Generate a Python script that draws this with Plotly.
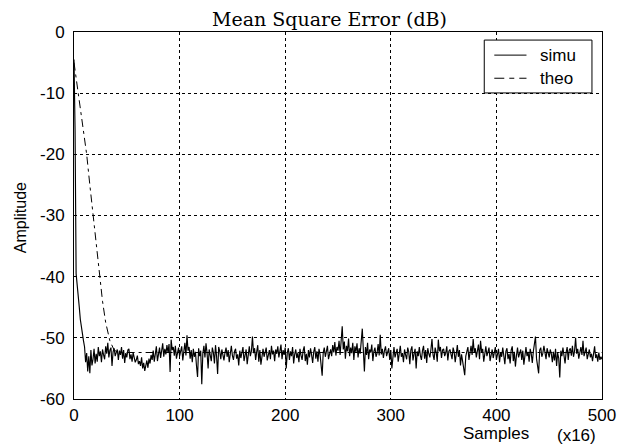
import plotly.graph_objects as go

# ---- data ----
simu_values = [
    -4.5, -16.0, -39.5, -41.0, -43.5, -45.0, -47.0, -48.5, -49.0, -50.5,
    -51.5, -54.0, -52.5, -55.5, -53.0, -55.8, -52.0, -54.5, -53.5, -51.8, -54.2, -52.6, -53.9, -51.5, -53.0, -52.2, -54.0, -51.9, -52.8, -53.5,
    -51.4, -52.6, -50.8, -53.2, -52.0, -51.6, -54.6, -52.3, -51.7, -53.0, -52.4, -51.9, -53.6, -52.1, -52.8, -51.5, -53.4, -52.0, -54.1, -52.5,
    -53.2, -52.0, -51.8, -53.5, -52.7, -53.9, -52.4, -53.1, -54.0, -53.6, -52.9, -54.3, -53.8, -54.6, -53.2, -55.0, -54.1, -55.4, -54.5, -53.7,
    -54.9, -53.4, -54.2, -52.8, -53.6, -52.1, -53.9, -52.5, -51.4, -53.8, -52.2, -51.6, -53.3, -52.0, -50.9, -53.1, -51.8, -52.7, -51.2, -52.4,
    -51.0, -55.6, -50.3, -52.0, -51.5, -52.9, -51.3, -53.4, -52.0, -51.6, -53.0, -52.2, -51.4, -53.7, -52.5, -50.8, -52.9, -49.6, -52.1, -51.5,
    -53.4, -52.0, -54.0, -51.8, -53.1, -52.3, -54.6, -56.4, -51.7, -53.0, -52.1, -57.6, -52.6, -51.3, -53.2, -50.9, -52.5, -55.0, -51.9, -52.7,
    -53.8, -51.6, -52.4, -54.2, -51.2, -53.0, -55.9, -51.5, -52.2, -53.5, -51.9, -52.8, -53.7, -52.4, -51.6, -53.1, -52.0, -54.0, -52.6, -51.3,
    -52.9, -53.6, -52.2, -51.8, -53.4, -52.7, -54.5, -52.1, -53.3, -52.0, -51.5, -53.8, -52.6, -51.9, -54.3, -52.8, -51.4, -53.0, -52.2, -49.8,
    -52.5, -51.7, -53.6, -52.3, -51.2, -53.9, -52.0, -54.4, -52.6, -51.8, -53.1, -52.4, -51.6, -53.7, -52.9, -52.0, -53.5, -51.3, -52.7, -52.1,
    -53.8, -51.9, -52.6, -51.4, -53.2, -52.3, -51.1, -53.5, -52.0, -52.8, -51.6, -55.0, -52.4, -51.7, -53.6, -52.2, -53.0, -51.5, -54.2, -52.7,
    -51.9, -53.3, -52.5, -54.0, -51.8, -52.9, -53.6, -52.1, -51.4, -53.8, -52.6, -54.4, -52.0, -53.2, -51.7, -52.8, -54.1, -52.3, -51.5, -53.4,
    -52.2, -53.9, -51.8, -52.7, -54.5, -56.2, -52.4, -51.6, -53.1, -52.0, -51.3, -53.5, -52.6, -51.9, -53.0, -51.2, -52.4, -50.7, -52.9, -51.5,
    -52.1, -50.5, -52.8, -51.0, -48.1, -51.9, -50.6, -53.4, -51.3, -52.2, -50.1, -53.0, -51.6, -52.5, -50.8, -53.6, -51.4, -52.3, -50.9, -53.2,
    -51.7, -52.6, -50.4, -48.5, -52.0, -55.5, -51.5, -52.8, -50.8, -53.5, -51.9, -52.4, -51.1, -53.8, -52.2, -51.6, -53.1, -52.5, -51.0, -52.9,
    -49.5, -52.7, -51.8, -53.3, -52.1, -51.4, -53.0, -52.4, -51.7, -53.6, -52.0, -55.0, -52.6, -51.5, -53.2, -52.2, -51.8, -53.9, -52.4, -51.3,
    -53.1, -52.5, -54.0, -51.9, -52.8, -53.5, -51.6, -52.3, -54.3, -52.0, -51.4, -53.7, -52.6, -51.8, -55.0, -52.2, -53.0, -51.5, -52.9, -53.6,
    -52.1, -51.3, -53.4, -52.0, -54.1, -51.7, -52.6, -53.2, -51.9, -50.2, -52.8, -53.6, -51.6, -52.4, -53.9, -50.3, -52.2, -51.5, -53.3, -52.0,
    -51.8, -53.0, -52.5, -51.4, -53.7, -52.2, -51.9, -52.8, -53.5, -51.6, -52.3, -54.0, -52.6, -51.2, -53.1, -52.0, -54.5, -52.7, -53.8, -54.9,
    -56.1, -53.0, -52.2, -51.5, -53.6, -52.0, -51.3, -52.8, -50.2, -52.4, -51.7, -53.2, -52.0, -51.1, -53.5, -50.5, -52.3, -51.8, -53.9, -52.6,
    -51.4, -53.0, -52.2, -51.6, -53.8, -52.5, -51.9, -53.3, -52.1, -51.5, -53.6, -52.7, -51.8, -54.0, -52.4, -53.1, -51.6, -52.9, -54.3, -52.2,
    -51.7, -53.5, -52.6, -54.2, -52.0, -51.4, -53.8, -52.3, -54.7, -52.9, -51.6, -53.2, -52.4, -51.9, -53.6, -52.1, -54.4, -52.8, -51.5, -53.0,
    -52.3, -53.9, -51.8, -52.6, -54.1, -52.2, -51.2, -49.8, -53.4, -54.6, -55.8, -52.0, -51.6, -53.1, -52.5, -51.3, -52.8, -53.5, -51.7, -52.4,
    -53.2, -51.9, -52.6, -54.0, -52.3, -53.7, -51.8, -54.6, -52.5, -53.3, -56.5, -52.1, -53.0, -51.6, -52.8, -54.2, -52.4, -51.5, -53.6, -52.0,
    -51.7, -52.9, -51.3, -53.1, -52.2, -50.0, -52.6, -51.8, -53.4, -52.3, -51.5, -52.8, -50.5, -53.0, -52.1, -51.6, -53.5, -52.4, -51.9, -53.2,
    -52.6, -53.8, -52.0, -51.4, -53.3, -52.7, -53.9, -52.4, -53.6, -53.1, -53.5,
]
simu_samples = list(range(len(simu_values)))

theo_samples = [0, 4, 8, 12, 15, 18, 21, 24, 27, 30, 34, 38, 42, 500]
theo_values = [-5.0, -10.0, -14.5, -20.0, -25.0, -30.0, -35.0, -40.0, -44.0, -47.5, -50.5, -52.0, -52.4, -52.4]

x_ticks = [0, 100, 200, 300, 400, 500]
y_ticks = [0, -10, -20, -30, -40, -50, -60]
legend_names = ["simu", "theo"]

SANS = "Arial, Liberation Sans, sans-serif"
SERIF = "DejaVu Serif, serif"
THEO_DASH = "8px,4px,3px,4px"

fig = go.Figure()
fig.add_trace(go.Scatter(x=simu_samples, y=simu_values, mode="lines", name=legend_names[0],
                         line=dict(color="black", width=1.15), showlegend=False))
fig.add_trace(go.Scatter(x=theo_samples, y=theo_values, mode="lines", name=legend_names[1],
                         line=dict(color="black", width=1, dash=THEO_DASH), showlegend=False))

# legend box drawn in paper coordinates (MATLAB-style legend)
lg_x0, lg_x1, lg_y0, lg_y1 = 0.777, 0.981, 0.834, 0.978
row_y = [0.937, 0.874]
shapes = [dict(type="rect", xref="paper", yref="paper", x0=lg_x0, x1=lg_x1, y0=lg_y0, y1=lg_y1,
               line=dict(color="black", width=1), fillcolor="white", layer="above")]
shapes.append(dict(type="line", xref="paper", yref="paper", x0=0.796, x1=0.857, y0=row_y[0], y1=row_y[0],
                   line=dict(color="black", width=1), layer="above"))
shapes.append(dict(type="line", xref="paper", yref="paper", x0=0.796, x1=0.857, y0=row_y[1], y1=row_y[1],
                   line=dict(color="black", width=1, dash="10px,5px,5px,5px"), layer="above"))

annotations = [
    dict(text="Mean Square Error (dB)", xref="paper", yref="paper",
         x=0.483, y=1.035, xanchor="center", yanchor="middle", showarrow=False,
         font=dict(family=SERIF, size=19, color="black")),
    dict(text="Amplitude", xref="paper", yref="paper", textangle=-90,
         x=-0.102, y=0.493, xanchor="center", yanchor="middle", showarrow=False,
         font=dict(family=SANS, size=16, color="black")),
    dict(text="Samples", xref="paper", yref="paper",
         x=0.80, y=-0.095, xanchor="center", yanchor="middle", showarrow=False,
         font=dict(family=SANS, size=17, color="black")),
    dict(text="(x16)", xref="paper", yref="paper",
         x=0.951, y=-0.1, xanchor="center", yanchor="middle", showarrow=False,
         font=dict(family=SANS, size=17, color="black")),
]
for name, ry in zip(legend_names, row_y):
    annotations.append(dict(text=name, xref="paper", yref="paper", x=0.879, y=ry,
                            xanchor="left", yanchor="middle", showarrow=False,
                            font=dict(family=SANS, size=17, color="black")))

fig.update_layout(
    width=628, height=446,
    margin=dict(l=74, r=24, t=32, b=47),
    paper_bgcolor="white", plot_bgcolor="white",
    font=dict(family=SANS, size=17, color="black"),
    showlegend=False,
    shapes=shapes,
    annotations=annotations,
)
fig.update_xaxes(range=[0, 500], tickvals=x_ticks, ticktext=[str(v) for v in x_ticks],
                 showline=True, linecolor="black", linewidth=1, mirror=True,
                 showgrid=True, gridcolor="black", gridwidth=1, griddash="3px,3px",
                 zeroline=False, ticks="", ticklabelstandoff=1,
                 tickfont=dict(family=SANS, size=17, color="black"))
fig.update_yaxes(range=[-60, 0], tickvals=y_ticks, ticktext=[str(v) for v in y_ticks],
                 showline=True, linecolor="black", linewidth=1, mirror=True,
                 showgrid=True, gridcolor="black", gridwidth=1, griddash="3px,3px",
                 zeroline=False, ticks="", ticklabelstandoff=5,
                 tickfont=dict(family=SANS, size=17, color="black"))

fig.write_html("out.html")
